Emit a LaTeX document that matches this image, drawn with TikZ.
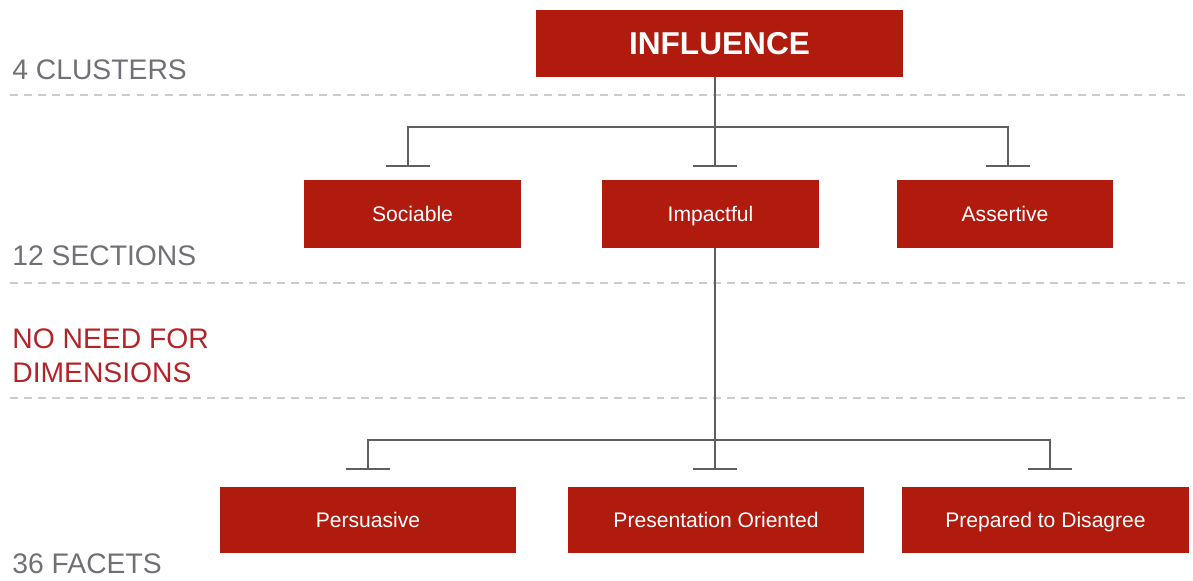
\documentclass[tikz,border=0pt]{standalone}
\usepackage{fontspec}
\setmainfont{Liberation Sans}
\usepackage{xcolor}
\usetikzlibrary{positioning}
\definecolor{boxred}{RGB}{176,27,14}
\definecolor{labgray}{RGB}{112,112,118}
\definecolor{labred}{RGB}{178,36,40}
\definecolor{sepgray}{RGB}{204,204,204}
\definecolor{linkgray}{RGB}{95,95,95}
\tikzset{box/.style={fill=boxred, text=white, inner sep=0pt, minimum height=1.36cm, text height=10.8pt, text depth=2.2pt, font=\fontsize{12}{14}\selectfont}}
\tikzset{level/.style={anchor=base west, inner sep=0pt, text=labgray, font=\fontsize{16.1}{19.5}\selectfont}}
\tikzset{sep/.style={sepgray, line width=1.1pt, dash pattern=on 4.5pt off 3.5pt}}
\tikzset{link/.style={linkgray, line width=0.6pt}}

\begin{document}
\begin{tikzpicture}[x=0.02cm, y=-0.02cm]
    \useasboundingbox (0,0) rectangle (1193,581);
    %Separators
    \foreach \y in {95,283,398}
      \draw[sep] (10,\y) -- (1190,\y);
    %Levels
    \node[level] (clusters) at (12,80) {4 CLUSTERS};
    \node[level] (sections) at (12,265) {12 SECTIONS};
    \node[level, text=labred] (noneed) at (12,348) {NO NEED FOR};
    \node[level, text=labred] (dims) at (12,382) {DIMENSIONS};
    \node[level] (facets) at (12,573) {36 FACETS};
    %Boxes
    \node[box, minimum width=7.34cm, minimum height=1.34cm, text height=16.2pt, text depth=3.2pt, font=\fontsize{18}{21}\selectfont\bfseries] (influence) at (719.5,43.5) {INFLUENCE};
    \node[box, minimum width=4.34cm] (sociable) at (412.5,214) {Sociable};
    \node[box, minimum width=4.34cm] (impactful) at (710.5,214) {Impactful};
    \node[box, minimum width=4.34cm] (assertive) at (1005,214) {Assertive};
    \node[box, minimum width=5.92cm, minimum height=1.32cm] (persuasive) at (368,520) {Persuasive};
    \node[box, minimum width=5.92cm, minimum height=1.32cm] (presentation) at (716,520) {Presentation Oriented};
    \node[box, minimum width=5.76cm, minimum height=1.32cm] (prepared) at (1045.5,520) {Prepared to Disagree};
    %Tree, first level
    \coordinate (ja) at (715,127);
    \coordinate (ta) at (408,166);
    \coordinate (tb) at (715,166);
    \coordinate (tc) at (1008,166);
    \draw[link] (influence.south -| ja) -- (ja);
    \draw[link] (ta) |- (ja) -| (tc);
    \draw[link] (ja) -- (tb);
    %Tree, second level
    \coordinate (jb) at (715,440);
    \coordinate (td) at (368,469);
    \coordinate (te) at (715,469);
    \coordinate (tf) at (1050,469);
    \draw[link] (impactful.south -| jb) -- (jb);
    \draw[link] (td) |- (jb) -| (tf);
    \draw[link] (jb) -- (te);
    \foreach \t in {ta,tb,tc,td,te,tf}
      \draw[link] ([xshift=-0.44cm]\t) -- ([xshift=0.44cm]\t);
  \end{tikzpicture}
\end{document}
